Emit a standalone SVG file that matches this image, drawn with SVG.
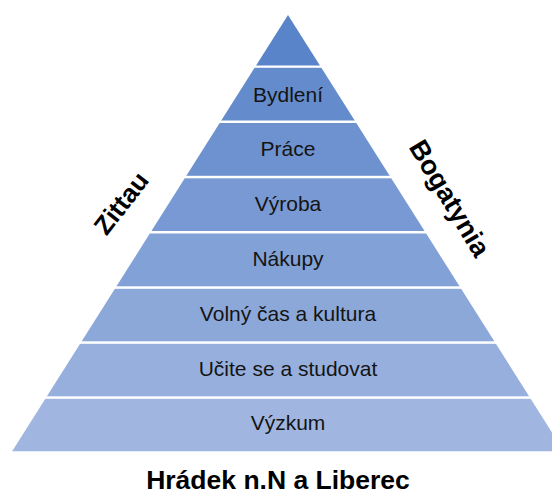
<svg xmlns="http://www.w3.org/2000/svg" width="552" height="495" viewBox="0 0 552 495">
<style>
.lbl{font-family:"Liberation Sans",Arial,sans-serif;font-size:21px;fill:#141414;text-anchor:middle}
.side{font-family:"Liberation Sans",Arial,sans-serif;font-weight:bold;fill:#000;text-anchor:middle}
.title{font-family:"Liberation Sans",Arial,sans-serif;font-weight:bold;font-size:26.5px;fill:#000;text-anchor:middle}
</style>
<defs>
<clipPath id="pyr"><polygon points="288,15 564,451.5 12,451.5"/></clipPath>
</defs>
<rect width="552" height="495" fill="#fff"/>
<g clip-path="url(#pyr)">
<g id="n0"><rect x="0" y="10" width="600" height="55.5" fill="#5A84C9"/></g>
<g id="n1"><rect x="0" y="67.8" width="600" height="52.7" fill="#648BCC"/></g>
<g id="n2"><rect x="0" y="123" width="600" height="52.8" fill="#6E92D0"/></g>
<g id="n3"><rect x="0" y="178.3" width="600" height="52.7" fill="#7899D3"/></g>
<g id="n4"><rect x="0" y="233.5" width="600" height="52.8" fill="#82A1D6"/></g>
<g id="n5"><rect x="0" y="288.8" width="600" height="52.5" fill="#8CA8D9"/></g>
<g id="n6"><rect x="0" y="343.8" width="600" height="52.5" fill="#96AFDD"/></g>
<g id="n7"><rect x="0" y="398.8" width="600" height="52.7" fill="#A0B6E0"/></g>
</g>
<g id="labels">
<text class="lbl" x="288" y="101.5">Bydlení</text>
<text class="lbl" x="288" y="156.3">Práce</text>
<text class="lbl" x="288" y="211">Výroba</text>
<text class="lbl" x="288" y="265.8">Nákupy</text>
<text class="lbl" x="288" y="320.6">Volný čas a kultura</text>
<text class="lbl" x="288" y="375.6">Učite se a studovat</text>
<text class="lbl" x="288" y="430.2">Výzkum</text>
</g>
<g id="zittau"><text class="side" font-size="26" transform="translate(121,203) rotate(-52)" x="0" y="9.3">Zittau</text></g>
<g id="bogatynia"><text class="side" font-size="27" transform="translate(450,198) rotate(59)" x="0" y="9.6">Bogatynia</text></g>
<g id="title"><text class="title" x="278" y="488.5">Hrádek n.N a Liberec</text></g>
<g id="connectors"/>
</svg>
